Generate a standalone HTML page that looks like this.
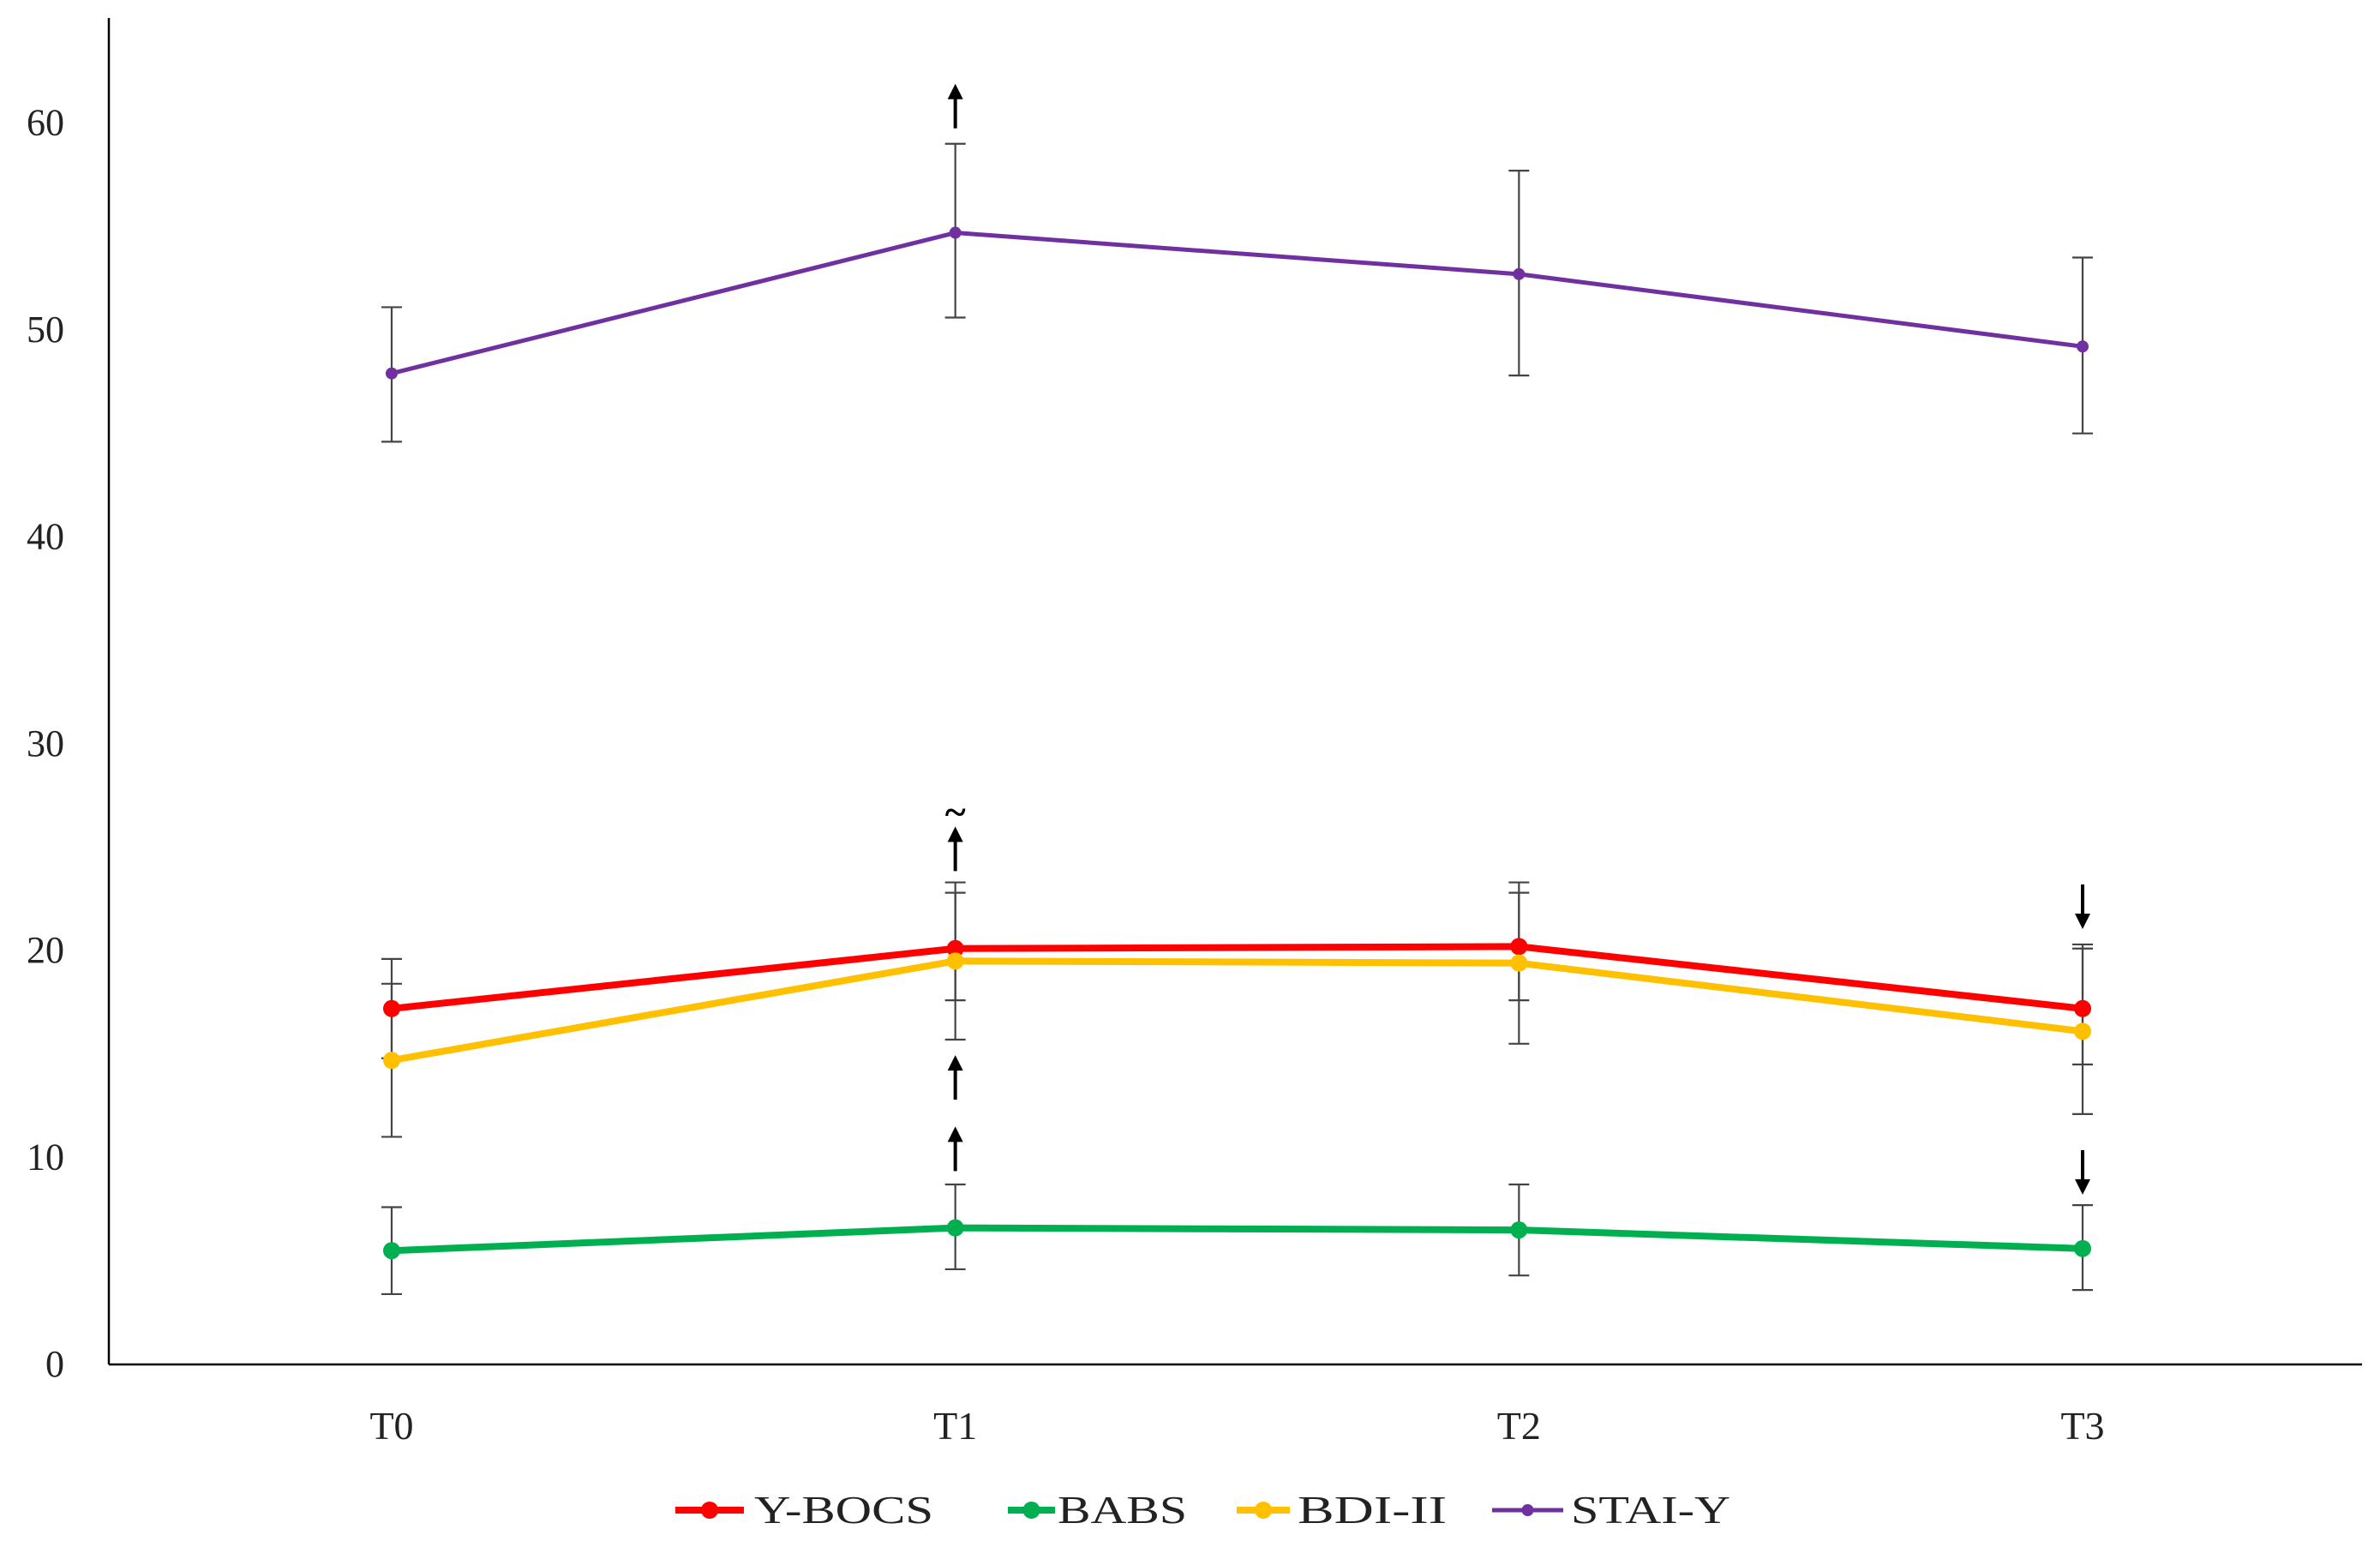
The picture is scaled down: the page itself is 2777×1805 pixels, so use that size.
<!DOCTYPE html>
<html><head><meta charset="utf-8"><style>
html,body{margin:0;padding:0;background:#fff;}
svg{display:block;font-family:"Liberation Serif",serif;}
</style></head><body>
<svg id="chart" width="2777" height="1805" viewBox="0 0 2777 1805" xmlns="http://www.w3.org/2000/svg">
<rect x="0" y="0" width="2777" height="1805" fill="#fff"/>
<g id="axes"></g><g id="errs"></g><g id="lines"></g><g id="arrows"></g><g id="legend"></g>
</svg>
<script>
const categories = ["T0","T1","T2","T3"];
const yTicks = [0,10,20,30,40,50,60];
const ybocs = [17.2,20.1,20.2,17.2];
const ybocsHi = [19.6,22.8,22.8,20.1];
const ybocsLo = [14.8,17.6,17.6,14.5];
const babs = [5.5,6.6,6.5,5.6];
const babsHi = [7.6,8.7,8.7,7.7];
const babsLo = [3.4,4.6,4.3,3.6];
const bdi = [14.7,19.5,19.4,16.1];
const bdiHi = [18.4,23.3,23.3,20.3];
const bdiLo = [11.0,15.7,15.5,12.1];
const stai = [47.9,54.7,52.7,49.2];
const staiHi = [51.1,59.0,57.7,53.5];
const staiLo = [44.6,50.6,47.8,45.0];
const seriesNames = ["Y-BOCS","BABS","BDI-II","STAI-Y"];
// arrows: [categoryIndex, value at top end, direction]
const arrowCat = [1,1,1,1,3,3];
const arrowVal = [61.9,26.0,14.95,11.5,23.2,10.36];
const arrowDir = ["up","up","up","up","down","down"];

const NS="http://www.w3.org/2000/svg";
const X0=127, Y0=1592, PX=24.14;
const catX=[457,1112,1771,2430];
function x(i){return catX[0]+i*((catX[3]-catX[0])/(categories.length-1));}
function y(v){return Y0-v*PX;}
function mk(tag,attrs,parent){const e=document.createElementNS(NS,tag);for(const k in attrs)e.setAttribute(k,attrs[k]);parent.appendChild(e);return e;}
const axes=document.getElementById('axes');
let a=mk('line',{x1:X0,y1:21,x2:X0,y2:Y0,stroke:'#000','stroke-width':2.5},axes);


a=mk('line',{x1:X0,y1:Y0,x2:2756,y2:Y0,stroke:'#000','stroke-width':2.5},axes);


yTicks.forEach(t=>{const tx=mk('text',{x:75,y:y(t)+14,'text-anchor':'end','font-size':44,fill:'#222'},axes);tx.textContent=t;

});
categories.forEach((c,i)=>{const tx=mk('text',{x:x(i),y:1679,'text-anchor':'middle','font-size':46,fill:'#222'},axes);tx.textContent=c;

});

const series=[
 {v:ybocs,hi:ybocsHi,lo:ybocsLo,c:'#ff0000',w:8,r:10},
 {v:babs,hi:babsHi,lo:babsLo,c:'#00b050',w:8,r:10},
 {v:bdi,hi:bdiHi,lo:bdiLo,c:'#ffc000',w:8,r:10},
 {v:stai,hi:staiHi,lo:staiLo,c:'#7030a0',w:5,r:7}];
const errs=document.getElementById('errs'), lines=document.getElementById('lines');
series.forEach((s,si)=>{
 s.v.forEach((v,i)=>{
  const g=mk('g',{stroke:'#444','stroke-width':2.2},errs);
  
  
  mk('line',{x1:x(i),x2:x(i),y1:y(s.hi[i]),y2:y(s.lo[i])},g);
  mk('line',{x1:x(i)-12,x2:x(i)+12,y1:y(s.hi[i]),y2:y(s.hi[i])},g);
  mk('line',{x1:x(i)-12,x2:x(i)+12,y1:y(s.lo[i]),y2:y(s.lo[i])},g);
 });
 const pts=s.v.map((v,i)=>x(i)+','+y(v)).join(' ');
 const pl=mk('polyline',{points:pts,fill:'none',stroke:s.c,'stroke-width':s.w,'stroke-linejoin':'round'},lines);
 
 
 s.v.forEach((v,i)=>{const c=mk('circle',{cx:x(i),cy:y(v),r:s.r,fill:s.c},lines);
  
  });
});
const arrows=document.getElementById('arrows');
arrowCat.forEach((ci,k)=>{
 const g=mk('g',{},arrows);
 
 
 const cx=x(ci), yy=y(arrowVal[k]), L=52;
 if(arrowDir[k]==='up'){
  mk('line',{x1:cx,x2:cx,y1:yy+10,y2:yy+L,stroke:'#000','stroke-width':4},g);
  mk('polygon',{points:`${cx-9},${yy+18} ${cx+9},${yy+18} ${cx},${yy}`,fill:'#000'},g);
 } else {
  mk('line',{x1:cx,x2:cx,y1:yy,y2:yy+L-10,stroke:'#000','stroke-width':4},g);
  mk('polygon',{points:`${cx-9},${yy+L-18} ${cx+9},${yy+L-18} ${cx},${yy+L}`,fill:'#000'},g);
 }
});
const tl=mk('text',{x:x(1),y:y(26.0)-2,'text-anchor':'middle','font-size':46,'font-weight':'bold',fill:'#000'},arrows);
tl.textContent='~';



const legend=document.getElementById('legend');
const lg=[[788,868,880,209],[1176,1231,1234,151],[1443,1505,1514,174],[1741,1824,1833,186]];
series.forEach((s,i)=>{
 const g=mk('g',{},legend);
 
 
 const [l1,l2,tx,tw]=lg[i];
 mk('line',{x1:l1,x2:l2,y1:1762,y2:1762,stroke:s.c,'stroke-width':s.w},g);
 mk('circle',{cx:(l1+l2)/2,cy:1762,r:s.r,fill:s.c},g);
 const t=mk('text',{x:tx,y:1777,'font-size':46,fill:'#222',textLength:tw,lengthAdjust:'spacingAndGlyphs'},g);
 t.textContent=seriesNames[i];
});
</script>
</body></html>
